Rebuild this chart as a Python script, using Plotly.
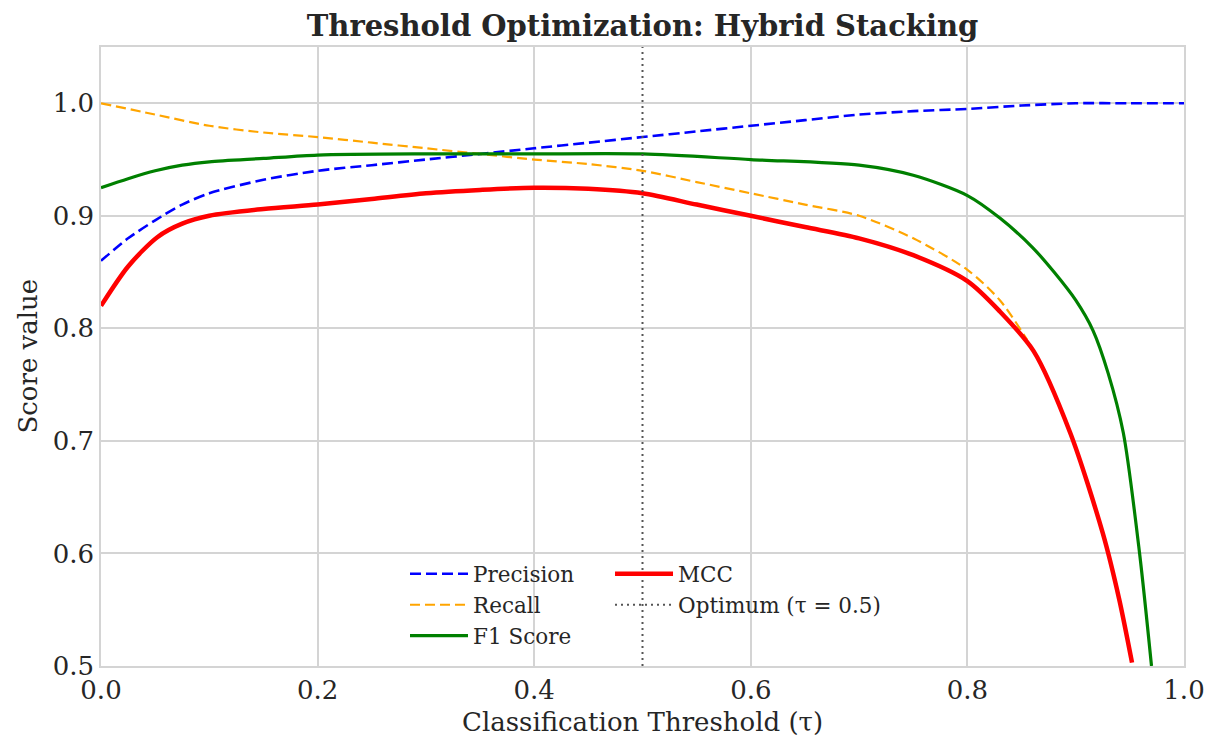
import plotly.graph_objects as go

# Data
prec_x = [0, 0.025, 0.05, 0.075, 0.1, 0.15, 0.2, 0.25, 0.3, 0.35, 0.4, 0.45, 0.5,
          0.55, 0.6, 0.65, 0.7, 0.75, 0.8, 0.85, 0.9, 0.95, 1.0]
prec_y = [0.860, 0.880, 0.896, 0.910, 0.920, 0.932, 0.940, 0.945, 0.950, 0.955, 0.960, 0.965, 0.970,
          0.975, 0.980, 0.985, 0.990, 0.993, 0.995, 0.998, 1.000, 1.000, 1.000]

rec_x = [0, 0.05, 0.1, 0.15, 0.2, 0.25, 0.3, 0.35, 0.4, 0.45, 0.5, 0.55, 0.6, 0.65,
         0.7, 0.75, 0.8, 0.83, 0.855]
rec_y = [1.0, 0.99, 0.98, 0.974, 0.97, 0.965, 0.96, 0.955, 0.95, 0.946, 0.94, 0.93, 0.92, 0.91,
         0.90, 0.88, 0.852, 0.825, 0.79]

f1_x = [0, 0.025, 0.05, 0.075, 0.1, 0.15, 0.2, 0.3, 0.35, 0.4, 0.5, 0.6, 0.7, 0.75, 0.8,
        0.83, 0.86, 0.88, 0.9, 0.916, 0.93, 0.944, 0.959, 0.97]
f1_y = [0.925, 0.933, 0.940, 0.945, 0.948, 0.951, 0.954, 0.955, 0.955, 0.955, 0.955, 0.950, 0.945,
        0.936, 0.918, 0.898, 0.872, 0.850, 0.825, 0.798, 0.760, 0.707, 0.600, 0.500]

mcc_x = [0, 0.025, 0.052, 0.075, 0.1, 0.15, 0.2, 0.25, 0.3, 0.35, 0.4, 0.45, 0.5, 0.55, 0.6,
         0.65, 0.7, 0.75, 0.8, 0.83, 0.861, 0.895, 0.925, 0.94, 0.952]
mcc_y = [0.820, 0.855, 0.881, 0.893, 0.900, 0.906, 0.910, 0.915, 0.920, 0.923, 0.925, 0.924, 0.920,
         0.910, 0.900, 0.890, 0.880, 0.865, 0.842, 0.815, 0.780, 0.707, 0.618, 0.560, 0.503]

opt_tau = 0.5
x_ticks = [0.0, 0.2, 0.4, 0.6, 0.8, 1.0]
y_ticks = [0.5, 0.6, 0.7, 0.8, 0.9, 1.0]

SERIF = "DejaVu Serif"
TXT = "#262626"

fig = go.Figure()
fig.add_trace(go.Scatter(x=prec_x, y=prec_y, mode="lines", name="Precision", legend="legend",
                         line=dict(color="#0000ff", width=2.6, dash="11px,5px", shape="spline", smoothing=0.8)))
fig.add_trace(go.Scatter(x=rec_x, y=rec_y, mode="lines", name="Recall", legend="legend",
                         line=dict(color="#ffa500", width=2.2, dash="10px,5px", shape="spline", smoothing=0.8)))
fig.add_trace(go.Scatter(x=f1_x, y=f1_y, mode="lines", name="F1 Score", legend="legend",
                         line=dict(color="#008000", width=3.2, shape="spline", smoothing=0.8)))
fig.add_trace(go.Scatter(x=mcc_x, y=mcc_y, mode="lines", name="MCC", legend="legend2",
                         line=dict(color="#ff0000", width=4.5, shape="spline", smoothing=0.8)))
fig.add_trace(go.Scatter(x=[opt_tau, opt_tau], y=[0.5, 1.05], mode="lines",
                         name="Optimum (τ = 0.5)", legend="legend2",
                         line=dict(color="#555555", width=2, dash="2px,4px")))

legend_common = dict(orientation="v", xanchor="left", yanchor="top", y=0.182,
                     bgcolor="rgba(255,255,255,0)", itemwidth=58,
                     font=dict(family=SERIF, size=21.5, color=TXT), tracegroupgap=0)

fig.update_layout(
    width=1211, height=728,
    paper_bgcolor="white", plot_bgcolor="white",
    margin=dict(l=93, r=35, t=39, b=70),
    title=dict(text="<b>Threshold Optimization: Hybrid Stacking</b>", x=0.5, xref="paper",
               xanchor="center", y=0.975, yanchor="middle",
               font=dict(family=SERIF, size=29, color=TXT)),
    font=dict(family=SERIF, color=TXT),
    showlegend=True,
    legend=dict(x=0.2807, **legend_common),
    legend2=dict(x=0.470, **legend_common),
    annotations=[
        dict(text="Classification Threshold (τ)", xref="paper", yref="paper",
             x=0.5, y=-0.0905, xanchor="center", yanchor="middle", showarrow=False,
             font=dict(family=SERIF, size=26, color=TXT)),
        dict(text="Score value", xref="paper", yref="paper", textangle=-90,
             x=-0.0683, y=0.5, xanchor="center", yanchor="middle", showarrow=False,
             font=dict(family=SERIF, size=26, color=TXT)),
    ],
)
fig.update_xaxes(range=[0, 1.0], tickvals=x_ticks, tickformat=".1f", automargin=False,
                 showgrid=True, gridcolor="#d4d4d4", gridwidth=1.5,
                 showline=True, linecolor="#d4d4d4", linewidth=1.5, mirror=True,
                 zeroline=False, ticks="", ticklabelstandoff=0,
                 tickfont=dict(family=SERIF, size=26, color=TXT))
fig.update_yaxes(range=[0.5, 1.05], tickvals=y_ticks, tickformat=".1f", automargin=False,
                 showgrid=True, gridcolor="#d4d4d4", gridwidth=1.5,
                 showline=True, linecolor="#d4d4d4", linewidth=1.5, mirror=True,
                 zeroline=False, ticks="", tickfont=dict(family=SERIF, size=26, color=TXT))

fig.write_html("out.html")
